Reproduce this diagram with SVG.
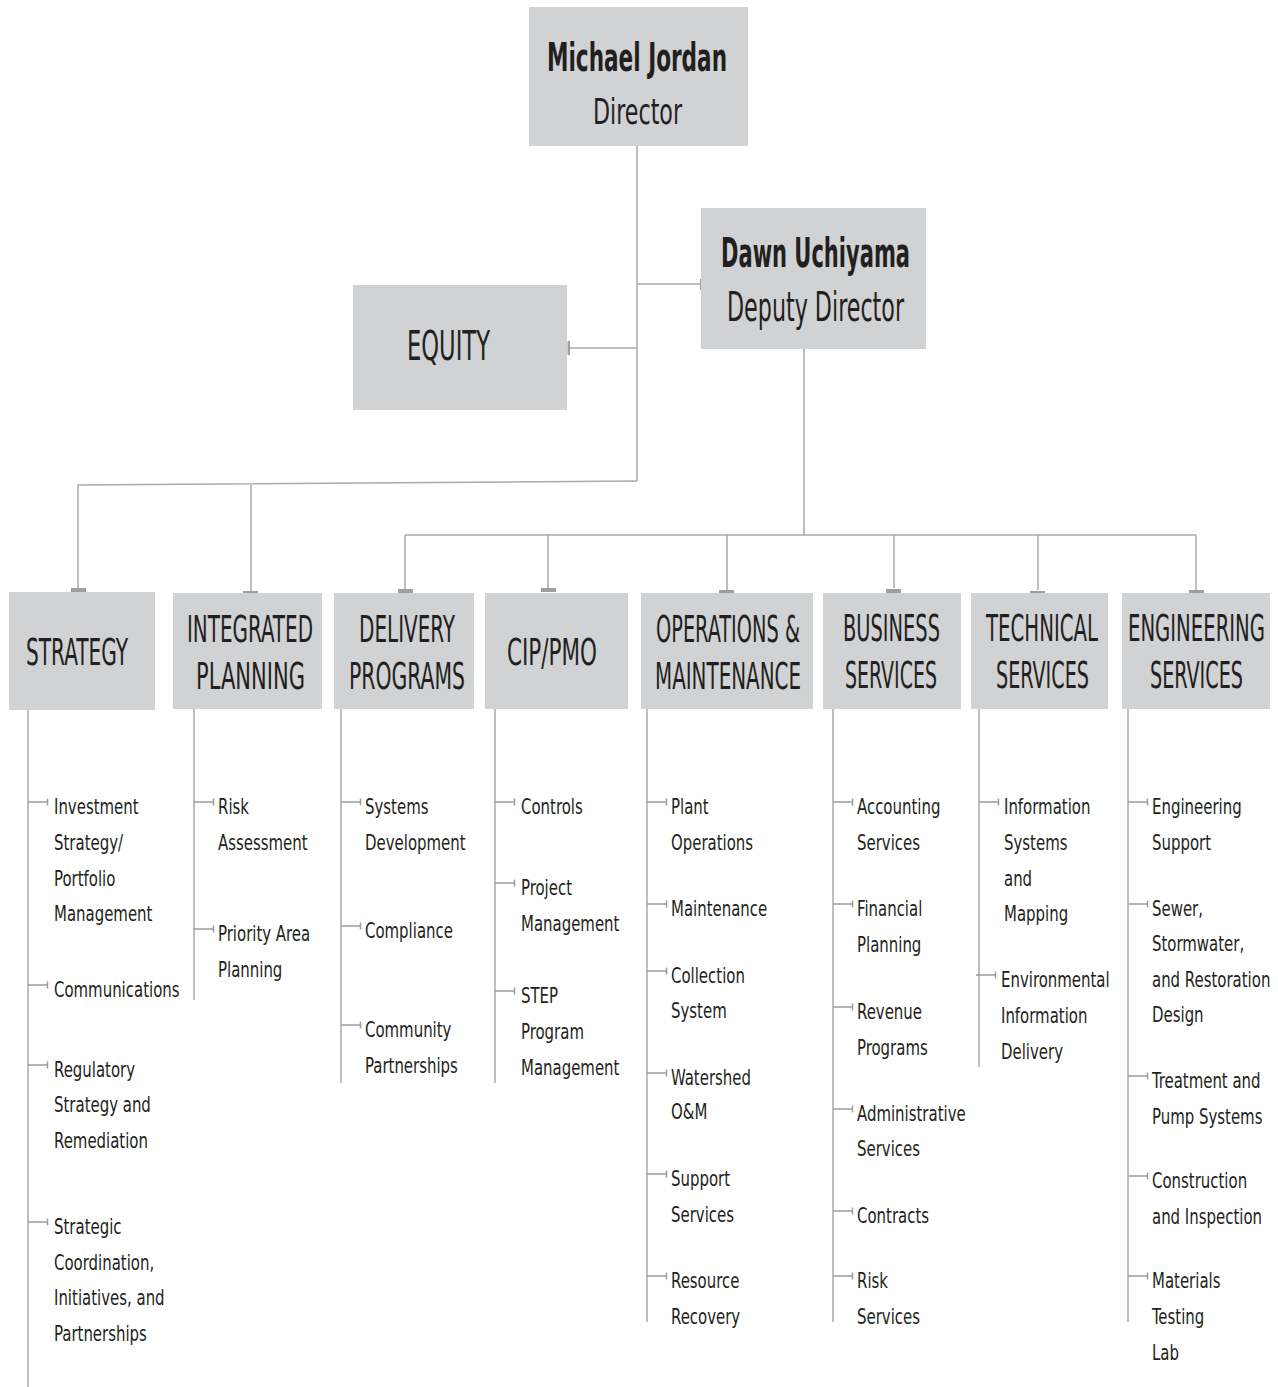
<svg xmlns="http://www.w3.org/2000/svg" xmlns:xlink="http://www.w3.org/1999/xlink" width="1278" height="1387" viewBox="0 0 1278 1387">
<style>
.box{fill:#d1d2d4}
.ln{fill:none;stroke:#a7a9ac;stroke-width:1.5}
.stub{fill:#9d9fa2}
text{font-family:"Liberation Sans Narrow","DejaVu Sans Condensed","Liberation Sans",sans-serif;fill:#231f20}
.nm{font-weight:bold;font-size:39px}
.tt{font-size:37px}
.hd{font-size:37px}
.it{font-size:22px}
.tk{fill:none;stroke:#9a9c9f;stroke-width:1.5}
</style>
<defs>
<path id="tick" class="tk" d="M0 0h20M19.5 -3.5v7"/>
</defs>
<rect width="1278" height="1387" fill="#ffffff"/>

<g id="connectors">
<path class="ln" d="M637 146V481"/>
<path class="ln" d="M637 284H701"/>
<path class="ln" d="M637 348H569"/>
<path class="ln" d="M637 481L78 485V590M251 485V592"/>
<path class="ln" d="M804 349V535M405 535H1196M405 535V590M548 535V588M727 535V590M894 535V588M1038 535V590M1196 535V590"/>
<rect class="stub" x="700" y="279" width="2.5" height="11"/>
<rect class="stub" x="567.5" y="341" width="2.5" height="14"/>
<rect class="stub" x="71" y="588" width="15" height="4"/>
<rect class="stub" x="243" y="591" width="15" height="3.5"/>
<rect class="stub" x="398" y="589" width="15" height="4"/>
<rect class="stub" x="541" y="588" width="15" height="4"/>
<rect class="stub" x="719" y="590" width="15" height="4"/>
<rect class="stub" x="886" y="589" width="15" height="4"/>
<rect class="stub" x="1030" y="591" width="15" height="4"/>
<rect class="stub" x="1189" y="590" width="15" height="4"/>
<path class="ln" d="M28 710V1387M194 709V1000M341 709V1083M495 709V1083M647 709V1322M833 709V1322M979 709V1067M1128 709V1322"/>
<use xlink:href="#tick" x="28" y="802"/>
<use xlink:href="#tick" x="28" y="985"/>
<use xlink:href="#tick" x="28" y="1065"/>
<use xlink:href="#tick" x="28" y="1222"/>
<use xlink:href="#tick" x="194" y="802"/>
<use xlink:href="#tick" x="194" y="929"/>
<use xlink:href="#tick" x="341" y="802"/>
<use xlink:href="#tick" x="341" y="926"/>
<use xlink:href="#tick" x="341" y="1025"/>
<use xlink:href="#tick" x="495" y="802"/>
<use xlink:href="#tick" x="495" y="883"/>
<use xlink:href="#tick" x="495" y="991"/>
<use xlink:href="#tick" x="647" y="802"/>
<use xlink:href="#tick" x="647" y="904"/>
<use xlink:href="#tick" x="647" y="971"/>
<use xlink:href="#tick" x="647" y="1073"/>
<use xlink:href="#tick" x="647" y="1174"/>
<use xlink:href="#tick" x="647" y="1276"/>
<use xlink:href="#tick" x="833" y="802"/>
<use xlink:href="#tick" x="833" y="904"/>
<use xlink:href="#tick" x="833" y="1007"/>
<use xlink:href="#tick" x="833" y="1109"/>
<use xlink:href="#tick" x="833" y="1211"/>
<use xlink:href="#tick" x="833" y="1276"/>
<use xlink:href="#tick" x="979" y="802"/>
<use xlink:href="#tick" x="976" y="975"/>
<use xlink:href="#tick" x="1128" y="802"/>
<use xlink:href="#tick" x="1128" y="904"/>
<use xlink:href="#tick" x="1128" y="1076"/>
<use xlink:href="#tick" x="1128" y="1176"/>
<use xlink:href="#tick" x="1128" y="1276"/>
</g>

<g id="director">
<rect class="box" x="529" y="7" width="219" height="139"/>
<text class="nm" x="547" y="71" textLength="180" lengthAdjust="spacingAndGlyphs">Michael Jordan</text>
<text class="tt" x="593" y="124" style="font-size:35px" textLength="89" lengthAdjust="spacingAndGlyphs">Director</text>
</g>

<g id="deputy">
<rect class="box" x="701" y="208" width="225" height="141"/>
<text class="nm" x="721" y="267" style="font-size:41px" textLength="189" lengthAdjust="spacingAndGlyphs">Dawn Uchiyama</text>
<text class="tt" x="727" y="321" style="font-size:40px" textLength="177" lengthAdjust="spacingAndGlyphs">Deputy Director</text>
</g>

<g id="equity">
<rect class="box" x="353" y="285" width="214" height="125"/>
<text class="tt" x="407" y="360" style="font-size:40px" textLength="83" lengthAdjust="spacingAndGlyphs">EQUITY</text>
</g>

<g id="strategy">
<rect class="box" x="9" y="592" width="146" height="118"/>
<g transform="scale(0.59 1)">
<text class="hd" x="44.07" y="665" textLength="172.88" lengthAdjust="spacingAndGlyphs">STRATEGY</text>
</g>
<g transform="translate(54 0) scale(0.755 1)">
<text class="it" x="0" y="814">Investment</text>
<text class="it" x="0" y="850">Strategy/</text>
<text class="it" x="0" y="886">Portfolio</text>
<text class="it" x="0" y="921">Management</text>
<text class="it" x="0" y="997">Communications</text>
<text class="it" x="0" y="1077">Regulatory</text>
<text class="it" x="0" y="1112">Strategy and</text>
<text class="it" x="0" y="1148">Remediation</text>
<text class="it" x="0" y="1234">Strategic</text>
<text class="it" x="0" y="1270">Coordination,</text>
<text class="it" x="0" y="1305">Initiatives, and</text>
<text class="it" x="0" y="1341">Partnerships</text>
</g>
</g>

<g id="integrated-planning">
<rect class="box" x="173" y="593" width="149" height="116"/>
<g transform="scale(0.59 1)">
<text class="hd" x="316.95" y="642" textLength="213.56" lengthAdjust="spacingAndGlyphs">INTEGRATED</text>
<text class="hd" x="332.2" y="689" textLength="184.75" lengthAdjust="spacingAndGlyphs">PLANNING</text>
</g>
<g transform="translate(218 0) scale(0.755 1)">
<text class="it" x="0" y="814">Risk</text>
<text class="it" x="0" y="850">Assessment</text>
<text class="it" x="0" y="941">Priority Area</text>
<text class="it" x="0" y="977">Planning</text>
</g>
</g>

<g id="delivery-programs">
<rect class="box" x="334" y="593" width="140" height="116"/>
<g transform="scale(0.59 1)">
<text class="hd" x="608.47" y="642" textLength="162.71" lengthAdjust="spacingAndGlyphs">DELIVERY</text>
<text class="hd" x="591.53" y="689" textLength="196.61" lengthAdjust="spacingAndGlyphs">PROGRAMS</text>
</g>
<g transform="translate(365 0) scale(0.755 1)">
<text class="it" x="0" y="814">Systems</text>
<text class="it" x="0" y="850">Development</text>
<text class="it" x="0" y="938">Compliance</text>
<text class="it" x="0" y="1037">Community</text>
<text class="it" x="0" y="1073">Partnerships</text>
</g>
</g>

<g id="cip-pmo">
<rect class="box" x="485" y="593" width="143" height="116"/>
<g transform="scale(0.59 1)">
<text class="hd" x="859.32" y="665" textLength="152.54" lengthAdjust="spacingAndGlyphs">CIP/PMO</text>
</g>
<g transform="translate(521 0) scale(0.755 1)">
<text class="it" x="0" y="814">Controls</text>
<text class="it" x="0" y="895">Project</text>
<text class="it" x="0" y="931">Management</text>
<text class="it" x="0" y="1003">STEP</text>
<text class="it" x="0" y="1039">Program</text>
<text class="it" x="0" y="1075">Management</text>
</g>
</g>

<g id="operations-maintenance">
<rect class="box" x="641" y="593" width="172" height="116"/>
<g transform="scale(0.59 1)">
<text class="hd" x="1111.86" y="642" textLength="244.07" lengthAdjust="spacingAndGlyphs">OPERATIONS &amp;</text>
<text class="hd" x="1110.17" y="689" textLength="247.46" lengthAdjust="spacingAndGlyphs">MAINTENANCE</text>
</g>
<g transform="translate(671 0) scale(0.755 1)">
<text class="it" x="0" y="814">Plant</text>
<text class="it" x="0" y="850">Operations</text>
<text class="it" x="0" y="916">Maintenance</text>
<text class="it" x="0" y="983">Collection</text>
<text class="it" x="0" y="1018">System</text>
<text class="it" x="0" y="1085">Watershed</text>
<text class="it" x="0" y="1119">O&amp;M</text>
<text class="it" x="0" y="1186">Support</text>
<text class="it" x="0" y="1222">Services</text>
<text class="it" x="0" y="1288">Resource</text>
<text class="it" x="0" y="1324">Recovery</text>
</g>
</g>

<g id="business-services">
<rect class="box" x="823" y="593" width="138" height="116"/>
<g transform="scale(0.59 1)">
<text class="hd" x="1428.81" y="641" textLength="164.41" lengthAdjust="spacingAndGlyphs">BUSINESS</text>
<text class="hd" x="1432.2" y="688" textLength="155.93" lengthAdjust="spacingAndGlyphs">SERVICES</text>
</g>
<g transform="translate(857 0) scale(0.755 1)">
<text class="it" x="0" y="814">Accounting</text>
<text class="it" x="0" y="850">Services</text>
<text class="it" x="0" y="916">Financial</text>
<text class="it" x="0" y="952">Planning</text>
<text class="it" x="0" y="1019">Revenue</text>
<text class="it" x="0" y="1055">Programs</text>
<text class="it" x="0" y="1121">Administrative</text>
<text class="it" x="0" y="1156">Services</text>
<text class="it" x="0" y="1223">Contracts</text>
<text class="it" x="0" y="1288">Risk</text>
<text class="it" x="0" y="1324">Services</text>
</g>
</g>

<g id="technical-services">
<rect class="box" x="971" y="593" width="137" height="116"/>
<g transform="scale(0.59 1)">
<text class="hd" x="1671.19" y="641" textLength="189.83" lengthAdjust="spacingAndGlyphs">TECHNICAL</text>
<text class="hd" x="1688.14" y="688" textLength="157.63" lengthAdjust="spacingAndGlyphs">SERVICES</text>
</g>
<g transform="translate(1004 0) scale(0.755 1)">
<text class="it" x="0" y="814">Information</text>
<text class="it" x="0" y="850">Systems</text>
<text class="it" x="0" y="886">and</text>
<text class="it" x="0" y="921">Mapping</text>
</g>
<g transform="translate(1001 0) scale(0.755 1)">
<text class="it" x="0" y="987">Environmental</text>
<text class="it" x="0" y="1023">Information</text>
<text class="it" x="0" y="1059">Delivery</text>
</g>
</g>

<g id="engineering-services">
<rect class="box" x="1122" y="593" width="148" height="116"/>
<g transform="scale(0.59 1)">
<text class="hd" x="1911.86" y="641" textLength="232.2" lengthAdjust="spacingAndGlyphs">ENGINEERING</text>
<text class="hd" x="1949.15" y="688" textLength="157.63" lengthAdjust="spacingAndGlyphs">SERVICES</text>
</g>
<g transform="translate(1152 0) scale(0.755 1)">
<text class="it" x="0" y="814">Engineering</text>
<text class="it" x="0" y="850">Support</text>
<text class="it" x="0" y="916">Sewer,</text>
<text class="it" x="0" y="951">Stormwater,</text>
<text class="it" x="0" y="987">and Restoration</text>
<text class="it" x="0" y="1022">Design</text>
<text class="it" x="0" y="1088">Treatment and</text>
<text class="it" x="0" y="1124">Pump Systems</text>
<text class="it" x="0" y="1188">Construction</text>
<text class="it" x="0" y="1224">and Inspection</text>
<text class="it" x="0" y="1288">Materials</text>
<text class="it" x="0" y="1324">Testing</text>
<text class="it" x="0" y="1360">Lab</text>
</g>
</g>
</svg>
